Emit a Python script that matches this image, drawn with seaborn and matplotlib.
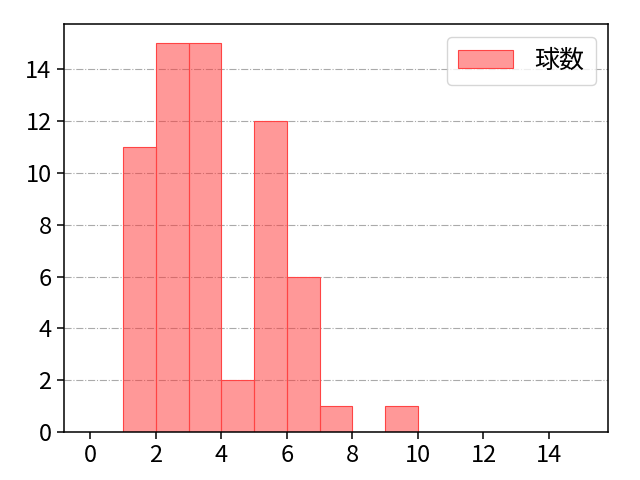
import numpy as np
import pandas as pd
import matplotlib
matplotlib.use("Agg")
import matplotlib.pyplot as plt
import seaborn as sns

# pitch-count histogram: bin edges and count per bin
bin_edges = [1, 2, 3, 4, 5, 6, 7, 8, 9, 10]
bin_counts = [11, 15, 15, 2, 12, 6, 1, 0, 1]
label = "球数"

sns.set_style("ticks")
plt.rcParams['font.family'] = ['Noto Sans CJK JP', 'DejaVu Sans']
plt.rcParams['font.size'] = 17
plt.rcParams['text.color'] = 'black'
plt.rcParams['xtick.color'] = 'black'
plt.rcParams['ytick.color'] = 'black'

df = pd.DataFrame({
    'value': [(a + b) / 2 for a, b in zip(bin_edges[:-1], bin_edges[1:])],
    'count': bin_counts,
})

fig, ax = plt.subplots(figsize=(6.4, 4.8), dpi=100)
fig.subplots_adjust(left=0.1, right=0.95, top=0.95, bottom=0.1)

sns.histplot(data=df, x='value', weights='count', bins=bin_edges, ax=ax,
             color='#ff3333', alpha=0.5, edgecolor='#ff4444', linewidth=0.8,
             label=label)

ax.set_xlim(-0.8, 15.8)
ax.set_ylim(0, 15.75)
ax.set_xticks(range(0, 15, 2))
ax.set_yticks(range(0, 15, 2))
ax.set_xlabel('')
ax.set_ylabel('')
ax.yaxis.grid(True, linestyle='-.', color='#aaaaaa', linewidth=0.8)
ax.set_axisbelow(True)
for s in ax.spines.values():
    s.set_linewidth(1.1)
    s.set_color('black')
ax.tick_params(labelsize=17, length=5, width=1.1, color='black', pad=4)
leg = ax.legend(loc='upper right', fontsize=18, handlelength=2.2,
                handletextpad=0.85, borderpad=0.45, fancybox=True,
                framealpha=0.8)
leg.get_frame().set_edgecolor('#cccccc')

fig.savefig('out.png', dpi=100)
